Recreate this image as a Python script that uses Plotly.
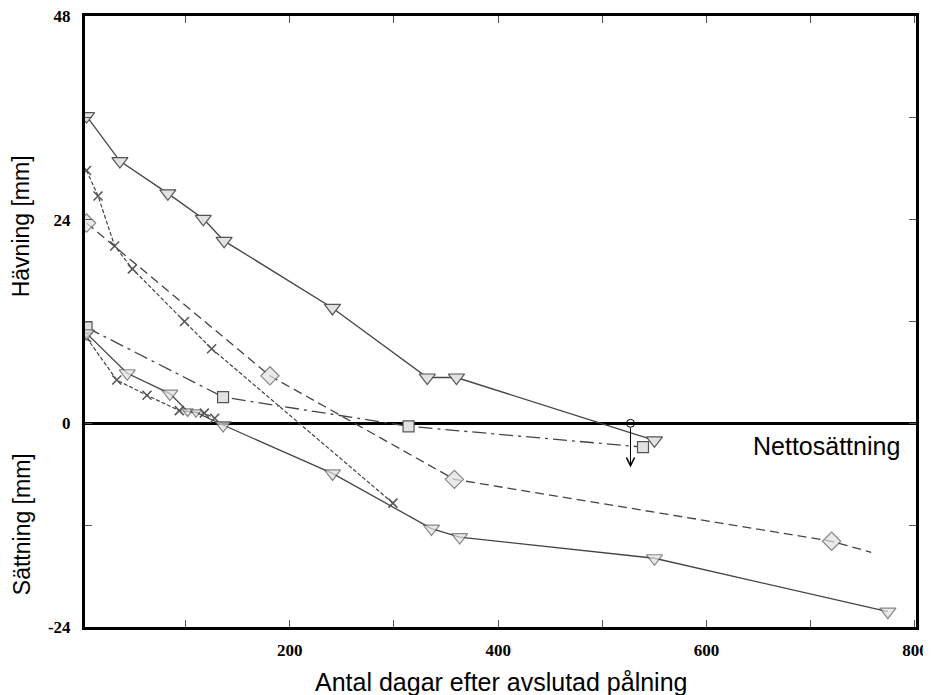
import plotly.graph_objects as go

# ---- data (days after piling, displacement mm) ----
tri_top_x = [5, 37, 83, 117, 137, 241, 332, 360, 550]
tri_top_y = [36.2, 30.9, 27.1, 24.1, 21.5, 13.6, 5.4, 5.4, -2.0]

tri_low_x = [5, 44, 85, 102, 110, 136, 241, 336, 363, 550, 774]
tri_low_y = [10.6, 5.9, 3.5, 1.4, 1.3, -0.2, -5.9, -12.4, -13.4, -15.9, -22.2]

x_top_x = [5, 16, 32, 49, 99, 125, 299]
x_top_y = [29.8, 26.8, 20.9, 18.2, 12.0, 8.8, -9.4]

x_low_x = [5, 34, 63, 94, 118, 128]
x_low_y = [10.1, 5.1, 3.3, 1.5, 1.2, 0.6]

dia_x = [5, 181, 358, 720, 758]
dia_y = [23.6, 5.6, -6.6, -13.9, -15.2]

sq_x = [5, 136, 314, 539]
sq_y = [11.3, 3.1, -0.35, -2.8]

x_ticks = [100, 200, 300, 400, 500, 600, 700, 800]
x_ticktext = ["", "200", "", "400", "", "600", "", "800"]
y_ticks = [-24, -12, 0, 12, 24, 36, 48]
y_ticktext = ["-24", "", "0", "", "24", "", "48"]

LINE = "#444444"
FILL = "#e2e2e2"
EDGE = "#555555"

fig = go.Figure()

fig.add_trace(go.Scatter(
    x=dia_x, y=dia_y, mode="lines+markers",
    line=dict(color=LINE, width=1.3, dash="9px,5px"),
    marker=dict(symbol="diamond", size=[14, 14, 14, 14, 0], color=FILL,
                line=dict(color=EDGE, width=1.2)),
    showlegend=False))

fig.add_trace(go.Scatter(
    x=sq_x, y=sq_y, mode="lines+markers",
    line=dict(color=LINE, width=1.3, dash="14px,5px,3px,5px"),
    marker=dict(symbol="square", size=11, color=FILL,
                line=dict(color=EDGE, width=1.2)),
    showlegend=False))

fig.add_trace(go.Scatter(
    x=x_top_x, y=x_top_y, mode="lines+markers",
    line=dict(color=LINE, width=1.2, dash="4px,2px"),
    marker=dict(symbol="x-thin", size=9, color=EDGE,
                line=dict(color=EDGE, width=1.5)),
    showlegend=False))

fig.add_trace(go.Scatter(
    x=x_low_x, y=x_low_y, mode="lines+markers",
    line=dict(color=LINE, width=1.2, dash="4px,2px"),
    marker=dict(symbol="x-thin", size=9, color=EDGE,
                line=dict(color=EDGE, width=1.5)),
    showlegend=False))

fig.add_trace(go.Scatter(
    x=tri_top_x, y=tri_top_y, mode="lines+markers",
    line=dict(color=LINE, width=1.3),
    marker=dict(symbol="triangle-down", size=14, color=FILL,
                line=dict(color=EDGE, width=1.2)),
    showlegend=False))

fig.add_trace(go.Scatter(
    x=tri_low_x, y=tri_low_y, mode="lines+markers",
    line=dict(color=LINE, width=1.3),
    marker=dict(symbol="triangle-down",
                size=[14, 14, 14, 10, 10, 14, 14, 14, 14, 14, 14],
                color=FILL, line=dict(color=EDGE, width=1.2)),
    showlegend=False))

tickfont = dict(family="Liberation Serif, Times New Roman, serif", size=17,
                color="black", weight="bold")
SANS = "Liberation Sans, Arial"

fig.update_layout(
    width=923, height=687,
    margin=dict(l=77, r=15, t=8, b=68, autoexpand=False),
    paper_bgcolor="white", plot_bgcolor="white",
    font=dict(family=SANS, color="black"),
    xaxis=dict(
        range=[3.5, 801], showgrid=False, zeroline=False,
        showline=True, linecolor="black", linewidth=3, mirror="ticks",
        ticks="inside", ticklen=7, tickcolor="#555", tickwidth=1.2,
        tickvals=x_ticks, ticktext=x_ticktext, tickfont=tickfont,
        ticklabelstandoff=6, ticklabeloverflow="allow",
    ),
    yaxis=dict(
        range=[-24, 48], showgrid=False,
        zeroline=True, zerolinecolor="black", zerolinewidth=2.5,
        showline=True, linecolor="black", linewidth=3, mirror="ticks",
        ticks="inside", ticklen=7, tickcolor="#555", tickwidth=1.2,
        tickvals=y_ticks, ticktext=y_ticktext, tickfont=tickfont,
        ticklabelstandoff=8, ticklabeloverflow="allow",
    ),
    annotations=[
        dict(text="Antal dagar efter avslutad pålning", xref="paper",
             yref="paper", x=0.5, y=-0.09, xanchor="center",
             yanchor="middle", showarrow=False,
             font=dict(size=25, family=SANS)),
        dict(text="Hävning [mm]", textangle=-90, xref="paper", yref="y",
             x=-0.076, y=23.2, showarrow=False, xanchor="center",
             yanchor="middle", font=dict(size=23, family=SANS)),
        dict(text="Sättning [mm]", textangle=-90, xref="paper", yref="y",
             x=-0.076, y=-11.9, showarrow=False, xanchor="center",
             yanchor="middle", font=dict(size=23, family=SANS)),
        dict(text="Nettosättning", xref="x", yref="y", x=643, y=-2.7,
             xanchor="left", yanchor="middle", showarrow=False,
             font=dict(size=25, family=SANS)),
        dict(text="", xref="x", yref="y", x=527, y=-5.2,
             ax=527, ay=-0.4, axref="x", ayref="y",
             showarrow=True, arrowhead=5, arrowsize=1.6, arrowwidth=1,
             arrowcolor="black"),
    ],
    shapes=[
        dict(type="circle", xref="x", yref="y", xsizemode="pixel",
             ysizemode="pixel", xanchor=527, yanchor=0,
             x0=-4, x1=4, y0=-4, y1=4,
             line=dict(color="black", width=1), fillcolor="rgba(0,0,0,0)"),
    ],
)

fig.write_html("out.html")
